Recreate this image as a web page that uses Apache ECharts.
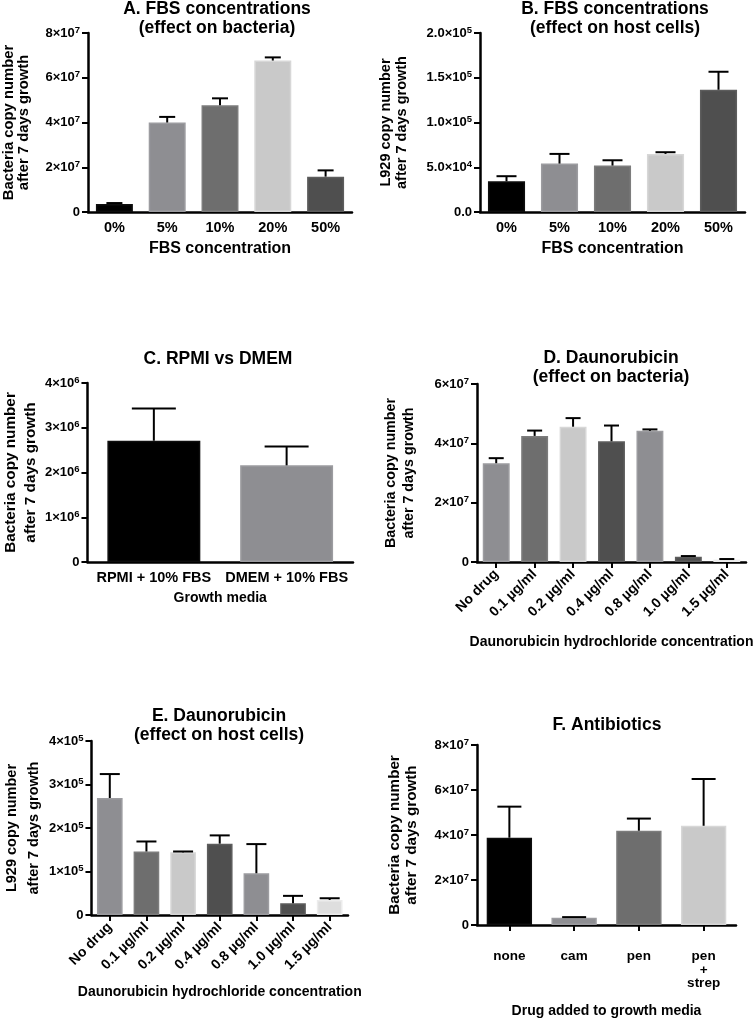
<!DOCTYPE html>
<html>
<head>
<meta charset="utf-8">
<script src="https://cdn.jsdelivr.net/npm/echarts@6/dist/echarts.min.js"></script>
<style>
html,body{margin:0;padding:0;background:#fff;}
#c{width:756px;height:1019px;}
</style>
</head>
<body>
<div id="c"></div>
<script>
// ---------- data ----------
const catsA = ['0%', '5%', '10%', '20%', '50%'];
const meanA = [3.6e6, 4.0e7, 4.77e7, 6.77e7, 1.58e7];
const errA  = [0.4e6, 0.25e7, 0.31e7, 0.14e7, 0.28e7];
const ticksA = ['0', '2×10^7', '4×10^7', '6×10^7', '8×10^7'];

const catsB = ['0%', '5%', '10%', '20%', '50%'];
const meanB = [3.43e4, 5.41e4, 5.19e4, 6.49e4, 13.66e4];
const errB  = [0.57e4, 1.08e4, 0.59e4, 0.19e4, 2.01e4];
const ticksB = ['0.0', '5.0×10^4', '1.0×10^5', '1.5×10^5', '2.0×10^5'];

const catsC = ['RPMI + 10% FBS', 'DMEM + 10% FBS'];
const meanC = [2.71e6, 2.16e6];
const errC  = [0.72e6, 0.42e6];
const ticksC = ['0', '1×10^6', '2×10^6', '3×10^6', '4×10^6'];

const catsD = ['No drug', '0.1 µg/ml', '0.2 µg/ml', '0.4 µg/ml', '0.8 µg/ml', '1.0 µg/ml', '1.5 µg/ml'];
const meanD = [3.33e7, 4.25e7, 4.56e7, 4.07e7, 4.42e7, 0.18e7, 0.08e7];
const errD  = [0.17e7, 0.18e7, 0.29e7, 0.53e7, 0.05e7, 0.02e7, 0.02e7];
const ticksD = ['0', '2×10^7', '4×10^7', '6×10^7'];

const catsE = ['No drug', '0.1 µg/ml', '0.2 µg/ml', '0.4 µg/ml', '0.8 µg/ml', '1.0 µg/ml', '1.5 µg/ml'];
const meanE = [2.69e5, 1.46e5, 1.44e5, 1.64e5, 0.96e5, 0.27e5, 0.345e5];
const errE  = [0.55e5, 0.23e5, 0.02e5, 0.19e5, 0.67e5, 0.17e5, 0.04e5];
const ticksE = ['0', '1×10^5', '2×10^5', '3×10^5', '4×10^5'];

const catsF = ['none', 'cam', 'pen', 'pen\n+\nstrep'];
const meanF = [3.88e7, 0.32e7, 4.19e7, 4.41e7];
const errF  = [1.38e7, 0.03e7, 0.54e7, 2.08e7];
const ticksF = ['0', '2×10^7', '4×10^7', '6×10^7', '8×10^7'];

const titles = ['A. FBS concentrations\n(effect on bacteria)', 'B. FBS concentrations\n(effect on host cells)',
  'C. RPMI vs DMEM', 'D. Daunorubicin\n(effect on bacteria)', 'E. Daunorubicin\n(effect on host cells)', 'F. Antibiotics'];
const yNames = ['Bacteria copy number\nafter 7 days growth', 'L929 copy number\nafter 7 days growth',
  'Bacteria copy number\nafter 7 days growth', 'Bacteria copy number\nafter 7 days growth',
  'L929 copy number\nafter 7 days growth', 'Bacteria copy number\nafter 7 days growth'];
const xNames = ['FBS concentration', 'FBS concentration', 'Growth media',
  'Daunorubicin hydrochloride concentration', 'Daunorubicin hydrochloride concentration', 'Drug added to growth media'];

// ---------- styles ----------
const K = '#000', G1 = '#8e8e92', G2 = '#6e6e6e', G3 = '#c9c9c9', G4 = '#4f4f4f', G5 = '#dedede';
const colsFBS = [K, G1, G2, G3, G4];
const colsDau = [G1, G2, G3, G4, G1, G4, G5];
const FONT = 'Liberation Sans';

const panels = [
  {cats: catsA, mean: meanA, err: errA, ticks: ticksA, max: 8e7, step: 2e7, cols: colsFBS,
   grid: {left: 84, top: 33, width: 268, height: 179}, title: [217, 18.5], cap: 8,
   yGap: 57, yFs: 14.8, yLh: 15, xGap: 29, xFs: 16, catFs: 14.5, rot: 0, xTick: false, catMargin: 9},
  {cats: catsB, mean: meanB, err: errB, ticks: ticksB, max: 2e5, step: 5e4, cols: colsFBS,
   grid: {left: 480, top: 33, width: 265, height: 179}, title: [615, 18.5], cap: 10,
   yGap: 70, yFs: 14.5, yLh: 16, xGap: 29, xFs: 16, catFs: 14.5, rot: 0, xTick: false, catMargin: 9},
  {cats: catsC, mean: meanC, err: errC, ticks: ticksC, max: 4e6, step: 1e6, cols: [K, G1],
   grid: {left: 77, top: 383, width: 276, height: 179}, title: [218, 359], cap: 22,
   yGap: 40, yFs: 15.3, yLh: 20, xGap: 29, xFs: 14, catFs: 14.5, rot: 0, xTick: false, catMargin: 9},
  {cats: catsD, mean: meanD, err: errD, ticks: ticksD, max: 6e7, step: 2e7, cols: colsDau,
   grid: {left: 477, top: 384, width: 269, height: 178}, title: [611, 367.5], cap: 7.5,
   yGap: 59, yFs: 14.3, yLh: 18, xGap: 73, xFs: 14, catFs: 14, rot: 45, xTick: true, catMargin: 10},
  {cats: catsE, mean: meanE, err: errE, ticks: ticksE, max: 4e5, step: 1e5, cols: colsDau,
   grid: {left: 88, top: 741, width: 260, height: 174}, title: [219, 725.5], cap: 10,
   yGap: 46, yFs: 14.5, yLh: 22, xGap: 70, xFs: 14, catFs: 14, rot: 45, xTick: true, catMargin: 10},
  {cats: catsF, mean: meanF, err: errF, ticks: ticksF, max: 8e7, step: 2e7, cols: [K, G1, G2, G3],
   grid: {left: 477, top: 745, width: 259, height: 182}, title: [607, 725], cap: 12,
   yGap: 57, yFs: 15.2, yLh: 17, xGap: 79, xFs: 14, catFs: 13.5, rot: 0, xTick: true, catMargin: 25}
];

function lighten(hex, amt) {
  const n = parseInt(hex.slice(1), 16);
  const r = Math.min(255, (n >> 16) + amt), g = Math.min(255, ((n >> 8) & 255) + amt), b = Math.min(255, (n & 255) + amt);
  return 'rgb(' + r + ',' + g + ',' + b + ')';
}

const option = {
  animation: false,
  backgroundColor: '#fff',
  textStyle: {fontFamily: FONT},
  grid: [], xAxis: [], yAxis: [], series: [], graphic: []
};

panels.forEach((p, i) => {
  option.grid.push(Object.assign({containLabel: false}, p.grid));
  option.xAxis.push({
    type: 'category', gridIndex: i, data: p.cats,
    name: xNames[i], nameLocation: 'middle', nameGap: p.xGap,
    nameTextStyle: {fontFamily: FONT, fontWeight: 'bold', fontSize: p.xFs, color: '#000'},
    axisLine: {show: true, lineStyle: {color: '#000', width: 2.5}},
    axisTick: {show: p.xTick, alignWithLabel: true, length: 6, lineStyle: {color: '#000', width: 2}},
    axisLabel: {interval: 0, rotate: p.rot, margin: p.catMargin, color: '#000', fontFamily: FONT,
      fontWeight: 'bold', fontSize: p.catFs, lineHeight: 13.5},
    splitLine: {show: false}
  });
  option.yAxis.push({
    type: 'value', gridIndex: i, min: 0, max: p.max, interval: p.step,
    name: yNames[i], nameLocation: 'middle', nameGap: p.yGap, nameRotate: 90,
    nameTextStyle: {fontFamily: FONT, fontWeight: 'bold', fontSize: p.yFs, lineHeight: p.yLh, color: '#000'},
    axisLine: {show: true, lineStyle: {color: '#000', width: 2.5}},
    axisTick: {show: true, inside: false, length: 6, lineStyle: {color: '#000', width: 2}},
    splitLine: {show: false},
    axisLabel: {
      margin: 8, color: '#000', fontFamily: FONT, fontWeight: 'bold', fontSize: 13, lineHeight: 16,
      formatter: v => (p.ticks[Math.round(v / p.step)] || '').replace(/\^(\d+)/, '{s|$1}'),
      rich: {s: {fontSize: 9.5, fontWeight: 'bold', fontFamily: FONT, color: '#000', verticalAlign: 'top', lineHeight: 9}}
    }
  });
  option.series.push({
    type: 'bar', xAxisIndex: i, yAxisIndex: i, barWidth: '70%',
    data: p.mean.map((m, j) => ({value: m, itemStyle: {color: p.cols[j], borderColor: lighten(p.cols[j], 14), borderWidth: 1.5}}))
  });
  option.series.push({
    type: 'custom', xAxisIndex: i, yAxisIndex: i, clip: false, z: 5,
    data: p.mean.map((m, j) => [j, m, p.err[j]]),
    encode: {x: 0, y: 1},
    renderItem: (params, api) => {
      const x = api.value(0), m = api.value(1), e = api.value(2);
      const a = api.coord([x, m]), b = api.coord([x, m + e]);
      const hw = p.cap;
      return {type: 'group', children: [
        {type: 'line', shape: {x1: a[0], y1: a[1], x2: b[0], y2: b[1]}, style: {stroke: '#000', lineWidth: 2}},
        {type: 'line', shape: {x1: b[0] - hw, y1: b[1], x2: b[0] + hw, y2: b[1]}, style: {stroke: '#000', lineWidth: 2}}
      ]};
    }
  });
  option.graphic.push({
    type: 'text', x: p.title[0], y: p.title[1], z: 10,
    style: {text: titles[i], align: 'center', verticalAlign: 'middle', fontFamily: FONT, fontWeight: 'bold',
      fontSize: 17.5, lineHeight: 18.5, fill: '#000'}
  });
});

const chart = echarts.init(document.getElementById('c'), null, {renderer: 'canvas'});
chart.setOption(option);
</script>
</body>
</html>
